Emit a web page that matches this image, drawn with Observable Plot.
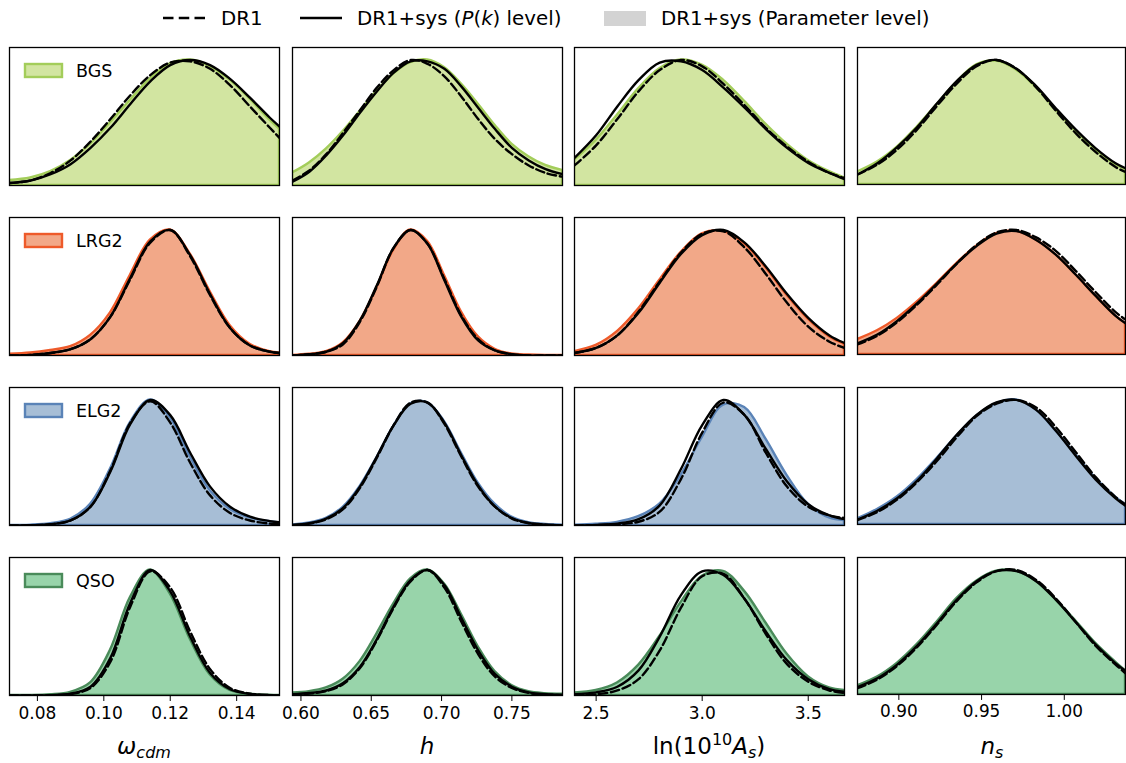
<!DOCTYPE html>
<html><head><meta charset="utf-8">
<script src="https://cdn.jsdelivr.net/npm/d3@7"></script>
<script src="https://cdn.jsdelivr.net/npm/@observablehq/plot@0.6"></script>
<style>
body{margin:0;background:#fff;}
#fig{position:relative;width:1126px;height:763px;overflow:hidden;font-family:"DejaVu Sans",sans-serif;background:#fff;}
.cell{position:absolute;}
.cell svg text{font-size:17px !important;font-family:"DejaVu Sans",sans-serif !important;fill:#000;}
#overlay{position:absolute;left:0;top:0;pointer-events:none;}
</style></head><body><div id="fig"></div>
<script>
// ---------------- data ----------------
const tracers = ["BGS", "LRG2", "ELG2", "QSO"];
const paramKeys = ["wcdm", "h", "As", "ns"];

const grid_wcdm = [0.0716, 0.078, 0.084, 0.090, 0.096, 0.102, 0.108, 0.114, 0.120, 0.126, 0.132, 0.138, 0.144, 0.150, 0.1529];
const grid_h = [0.594, 0.606, 0.618, 0.630, 0.642, 0.654, 0.666, 0.678, 0.690, 0.702, 0.714, 0.726, 0.738, 0.750, 0.762, 0.774, 0.786];
const grid_As = [2.398, 2.5, 2.6, 2.7, 2.8, 2.9, 3.0, 3.1, 3.2, 3.3, 3.4, 3.5, 3.6, 3.671];
const grid_ns = [0.875, 0.887, 0.899, 0.911, 0.923, 0.935, 0.947, 0.959, 0.971, 0.983, 0.995, 1.007, 1.019, 1.031, 1.037];

const domain_wcdm = [0.0716, 0.1529];
const domain_h = [0.594, 0.786];
const domain_As = [2.398, 3.671];
const domain_ns = [0.875, 1.037];

const ticks_wcdm = [0.08, 0.10, 0.12, 0.14];
const ticks_h = [0.60, 0.65, 0.70, 0.75];
const ticks_As = [2.5, 3.0, 3.5];
const ticks_ns = [0.90, 0.95, 1.00];

// BGS
const BGS_wcdm_param = [0.04, 0.06, 0.11, 0.20, 0.33, 0.50, 0.68, 0.85, 0.97, 1.00, 0.95, 0.84, 0.69, 0.52, 0.45];
const BGS_wcdm_pk    = [0.02, 0.04, 0.09, 0.17, 0.30, 0.46, 0.65, 0.83, 0.96, 1.00, 0.96, 0.85, 0.70, 0.54, 0.47];
const BGS_wcdm_dr1   = [0.02, 0.04, 0.10, 0.20, 0.35, 0.53, 0.72, 0.88, 0.98, 0.99, 0.93, 0.80, 0.63, 0.46, 0.38];
const BGS_h_param = [0.10, 0.18, 0.29, 0.43, 0.59, 0.75, 0.89, 0.98, 1.0, 0.94, 0.81, 0.65, 0.48, 0.33, 0.23, 0.16, 0.12];
const BGS_h_pk    = [0.03, 0.11, 0.24, 0.40, 0.58, 0.75, 0.90, 0.99, 0.99, 0.93, 0.79, 0.62, 0.45, 0.30, 0.20, 0.13, 0.09];
const BGS_h_dr1   = [0.04, 0.12, 0.25, 0.42, 0.60, 0.78, 0.92, 1.0, 0.97, 0.87, 0.71, 0.53, 0.37, 0.25, 0.16, 0.10, 0.07];
const BGS_As_param = [0.20, 0.36, 0.56, 0.77, 0.93, 1.0, 0.96, 0.84, 0.67, 0.49, 0.33, 0.20, 0.11, 0.06];
const BGS_As_pk    = [0.22, 0.40, 0.63, 0.84, 0.98, 0.99, 0.92, 0.78, 0.62, 0.45, 0.30, 0.18, 0.10, 0.05];
const BGS_As_dr1   = [0.16, 0.32, 0.53, 0.75, 0.92, 1.0, 0.95, 0.81, 0.64, 0.46, 0.31, 0.19, 0.10, 0.06];
const BGS_ns_param = [0.10, 0.18, 0.30, 0.46, 0.64, 0.82, 0.96, 0.99, 0.92, 0.78, 0.60, 0.43, 0.28, 0.16, 0.12];
const BGS_ns_pk    = [0.08, 0.17, 0.30, 0.46, 0.65, 0.83, 0.96, 1.0, 0.93, 0.79, 0.61, 0.44, 0.29, 0.17, 0.13];
const BGS_ns_dr1   = [0.08, 0.16, 0.28, 0.44, 0.63, 0.81, 0.95, 1.0, 0.93, 0.78, 0.59, 0.41, 0.26, 0.14, 0.10];

// LRG2
const LRG2_wcdm_param = [0.01, 0.02, 0.04, 0.07, 0.16, 0.34, 0.64, 0.92, 1.0, 0.81, 0.51, 0.24, 0.09, 0.03, 0.02];
const LRG2_wcdm_pk    = [0.0, 0.005, 0.02, 0.05, 0.13, 0.31, 0.62, 0.91, 1.0, 0.80, 0.49, 0.22, 0.08, 0.03, 0.02];
const LRG2_wcdm_dr1   = [0.0, 0.005, 0.02, 0.05, 0.13, 0.31, 0.61, 0.90, 1.0, 0.79, 0.48, 0.22, 0.08, 0.03, 0.02];
const LRG2_h_param = [0.0, 0.01, 0.03, 0.10, 0.27, 0.54, 0.84, 1.0, 0.91, 0.64, 0.35, 0.15, 0.05, 0.012, 0.004, 0.0, 0.0];
const LRG2_h_pk    = [0.0, 0.01, 0.03, 0.10, 0.28, 0.56, 0.86, 1.0, 0.89, 0.60, 0.31, 0.12, 0.04, 0.01, 0.0, 0.0, 0.0];
const LRG2_h_dr1   = [0.0, 0.01, 0.03, 0.09, 0.27, 0.55, 0.86, 1.0, 0.89, 0.61, 0.32, 0.13, 0.04, 0.01, 0.0, 0.0, 0.0];
const LRG2_As_param = [0.03, 0.08, 0.19, 0.37, 0.60, 0.82, 0.97, 0.99, 0.89, 0.70, 0.48, 0.29, 0.15, 0.09];
const LRG2_As_pk    = [0.02, 0.06, 0.16, 0.34, 0.58, 0.81, 0.96, 1.0, 0.90, 0.71, 0.49, 0.30, 0.16, 0.10];
const LRG2_As_dr1   = [0.02, 0.06, 0.16, 0.35, 0.59, 0.82, 0.97, 0.99, 0.86, 0.65, 0.42, 0.23, 0.11, 0.06];
const LRG2_ns_param = [0.12, 0.19, 0.29, 0.42, 0.57, 0.73, 0.87, 0.97, 0.99, 0.92, 0.80, 0.64, 0.47, 0.31, 0.25];
const LRG2_ns_pk    = [0.09, 0.16, 0.27, 0.41, 0.57, 0.73, 0.87, 0.97, 0.99, 0.92, 0.80, 0.64, 0.47, 0.31, 0.25];
const LRG2_ns_dr1   = [0.08, 0.15, 0.26, 0.40, 0.56, 0.73, 0.88, 0.98, 1.0, 0.94, 0.83, 0.67, 0.50, 0.34, 0.28];

// ELG2
const ELG2_wcdm_param = [0.0, 0.003, 0.015, 0.05, 0.17, 0.45, 0.82, 1.0, 0.86, 0.55, 0.28, 0.13, 0.06, 0.03, 0.02];
const ELG2_wcdm_pk    = [0.0, 0.002, 0.01, 0.04, 0.15, 0.43, 0.81, 1.0, 0.88, 0.58, 0.31, 0.15, 0.07, 0.035, 0.025];
const ELG2_wcdm_dr1   = [0.0, 0.002, 0.01, 0.04, 0.15, 0.44, 0.82, 0.99, 0.82, 0.50, 0.24, 0.10, 0.04, 0.015, 0.01];
const ELG2_h_param = [0.005, 0.02, 0.057, 0.145, 0.31, 0.54, 0.79, 0.97, 0.98, 0.83, 0.58, 0.34, 0.17, 0.067, 0.023, 0.008, 0.003];
const ELG2_h_pk    = [0.004, 0.018, 0.055, 0.14, 0.31, 0.55, 0.80, 0.97, 0.98, 0.82, 0.56, 0.32, 0.15, 0.06, 0.02, 0.007, 0.002];
const ELG2_h_dr1   = [0.003, 0.015, 0.05, 0.13, 0.30, 0.54, 0.80, 0.98, 0.98, 0.81, 0.55, 0.31, 0.15, 0.055, 0.018, 0.006, 0.002];
const ELG2_As_param = [0.003, 0.01, 0.025, 0.07, 0.17, 0.40, 0.70, 0.96, 0.94, 0.69, 0.40, 0.17, 0.06, 0.04];
const ELG2_As_pk    = [0.0, 0.005, 0.015, 0.05, 0.16, 0.45, 0.80, 1.0, 0.88, 0.61, 0.35, 0.17, 0.08, 0.05];
const ELG2_As_dr1   = [0.0, 0.003, 0.01, 0.03, 0.11, 0.37, 0.74, 0.98, 0.88, 0.58, 0.31, 0.15, 0.08, 0.06];
const ELG2_ns_param = [0.045, 0.12, 0.22, 0.36, 0.53, 0.71, 0.87, 0.97, 1.0, 0.92, 0.75, 0.56, 0.37, 0.22, 0.16];
const ELG2_ns_pk    = [0.04, 0.11, 0.21, 0.35, 0.53, 0.72, 0.88, 0.98, 1.0, 0.92, 0.75, 0.55, 0.36, 0.21, 0.15];
const ELG2_ns_dr1   = [0.035, 0.10, 0.20, 0.34, 0.51, 0.70, 0.87, 0.97, 1.0, 0.94, 0.78, 0.58, 0.38, 0.22, 0.16];

// QSO
const QSO_wcdm_param = [0.0, 0.0, 0.006, 0.025, 0.10, 0.36, 0.78, 1.0, 0.81, 0.45, 0.165, 0.04, 0.01, 0.002, 0.0];
const QSO_wcdm_pk    = [0.0, 0.0, 0.003, 0.015, 0.07, 0.30, 0.74, 1.0, 0.83, 0.47, 0.18, 0.05, 0.012, 0.003, 0.001];
const QSO_wcdm_dr1   = [0.0, 0.0, 0.002, 0.012, 0.06, 0.27, 0.71, 0.99, 0.86, 0.51, 0.21, 0.06, 0.015, 0.003, 0.0];
const QSO_h_param = [0.02, 0.03, 0.06, 0.13, 0.27, 0.49, 0.73, 0.93, 1.0, 0.89, 0.65, 0.39, 0.19, 0.08, 0.03, 0.015, 0.01];
const QSO_h_pk    = [0.01, 0.02, 0.04, 0.10, 0.23, 0.45, 0.71, 0.92, 1.0, 0.88, 0.62, 0.36, 0.17, 0.07, 0.025, 0.01, 0.005];
const QSO_h_dr1   = [0.005, 0.015, 0.035, 0.09, 0.22, 0.44, 0.70, 0.91, 1.0, 0.86, 0.59, 0.33, 0.15, 0.06, 0.02, 0.008, 0.004];
const QSO_As_param = [0.02, 0.04, 0.10, 0.24, 0.47, 0.74, 0.95, 0.99, 0.83, 0.58, 0.33, 0.15, 0.06, 0.04];
const QSO_As_pk    = [0.01, 0.025, 0.07, 0.20, 0.47, 0.80, 0.99, 0.96, 0.77, 0.51, 0.28, 0.13, 0.05, 0.03];
const QSO_As_dr1   = [0.0, 0.01, 0.04, 0.13, 0.36, 0.70, 0.95, 0.97, 0.77, 0.49, 0.25, 0.11, 0.04, 0.02];
const QSO_ns_param = [0.07, 0.14, 0.25, 0.40, 0.58, 0.77, 0.91, 0.99, 0.99, 0.91, 0.76, 0.59, 0.41, 0.26, 0.19];
const QSO_ns_pk    = [0.06, 0.13, 0.24, 0.39, 0.57, 0.76, 0.91, 0.99, 0.99, 0.91, 0.76, 0.58, 0.40, 0.25, 0.19];
const QSO_ns_dr1   = [0.05, 0.12, 0.23, 0.38, 0.56, 0.75, 0.90, 0.99, 1.0, 0.92, 0.77, 0.58, 0.39, 0.24, 0.17];

const fillColors = ["#d2e5a1", "#f2a888", "#a7bed6", "#98d4aa"];
const edgeColors = ["#a3cd5a", "#ee5a2a", "#5a83b7", "#4a8b5a"];
const legendLabels = ["DR1", "DR1+sys (P(k) level)", "DR1+sys (Parameter level)"];

// ---------------- assembly ----------------
const curves = {
  BGS_wcdm: [BGS_wcdm_param, BGS_wcdm_pk, BGS_wcdm_dr1], BGS_h: [BGS_h_param, BGS_h_pk, BGS_h_dr1],
  BGS_As: [BGS_As_param, BGS_As_pk, BGS_As_dr1], BGS_ns: [BGS_ns_param, BGS_ns_pk, BGS_ns_dr1],
  LRG2_wcdm: [LRG2_wcdm_param, LRG2_wcdm_pk, LRG2_wcdm_dr1], LRG2_h: [LRG2_h_param, LRG2_h_pk, LRG2_h_dr1],
  LRG2_As: [LRG2_As_param, LRG2_As_pk, LRG2_As_dr1], LRG2_ns: [LRG2_ns_param, LRG2_ns_pk, LRG2_ns_dr1],
  ELG2_wcdm: [ELG2_wcdm_param, ELG2_wcdm_pk, ELG2_wcdm_dr1], ELG2_h: [ELG2_h_param, ELG2_h_pk, ELG2_h_dr1],
  ELG2_As: [ELG2_As_param, ELG2_As_pk, ELG2_As_dr1], ELG2_ns: [ELG2_ns_param, ELG2_ns_pk, ELG2_ns_dr1],
  QSO_wcdm: [QSO_wcdm_param, QSO_wcdm_pk, QSO_wcdm_dr1], QSO_h: [QSO_h_param, QSO_h_pk, QSO_h_dr1],
  QSO_As: [QSO_As_param, QSO_As_pk, QSO_As_dr1], QSO_ns: [QSO_ns_param, QSO_ns_pk, QSO_ns_dr1]
};
const grids = [grid_wcdm, grid_h, grid_As, grid_ns];
const domains = [domain_wcdm, domain_h, domain_As, domain_ns];
const tickSets = [ticks_wcdm, ticks_h, ticks_As, ticks_ns];
const tickFormats = [d3.format(".2f"), d3.format(".2f"), d3.format(".1f"), d3.format(".2f")];

const colLeft = [9, 292, 574, 857];
const rowTop = [47, 217, 387, 557];
const W = 270, H = 138;
const fig = document.getElementById("fig");
const FONT = "'DejaVu Sans', sans-serif";
const LW = 2.4, DASH = "8.5,3.7";

tracers.forEach((tr, r) => {
  paramKeys.forEach((pk, c) => {
    const [pp, kk, dd] = curves[tr + "_" + pk];
    const data = grids[c].map((x, i) => ({x, p: pp[i], k: kk[i], d: dd[i]}));
    const bottom = r === 3;
    const svg = Plot.plot({
      width: W + 2, height: H + 2 + (bottom ? 44 : 0),
      marginLeft: 1, marginRight: 1, marginTop: 1, marginBottom: bottom ? 45 : 1,
      style: {background: "transparent", overflow: "visible", fontSize: "17px", fontFamily: FONT, color: "black"},
      x: {domain: domains[c], ticks: tickSets[c], tickFormat: tickFormats[c], tickSize: 6, tickPadding: 5, label: null, axis: bottom ? "bottom" : null},
      y: {domain: [0, 1.1], axis: null},
      marks: [
        Plot.areaY(data, {x: "x", y: "p", fill: fillColors[r], stroke: edgeColors[r], strokeWidth: 2.4, curve: "catmull-rom", clip: true}),
        Plot.lineY(data, {x: "x", y: "d", stroke: "black", strokeWidth: LW, strokeDasharray: DASH, curve: "catmull-rom", clip: true}),
        Plot.lineY(data, {x: "x", y: "k", stroke: "black", strokeWidth: LW, curve: "catmull-rom", clip: true}),
        Plot.frame({stroke: "black", strokeWidth: 1.3})
      ]
    });
    const div = document.createElement("div");
    div.className = "cell";
    div.style.left = (colLeft[c] - 1) + "px";
    div.style.top = (rowTop[r] - 1) + "px";
    div.appendChild(svg);
    fig.appendChild(div);
  });
});

// overlay: legends and axis titles
const ov = d3.select(fig).append("svg").attr("id", "overlay").attr("width", 1126).attr("height", 763)
  .style("font-family", FONT);

// top legend
const LF = 19.8;
ov.append("line").attr("x1", 163).attr("x2", 205).attr("y1", 18).attr("y2", 18)
  .attr("stroke", "black").attr("stroke-width", LW).attr("stroke-dasharray", "10.5,5.25");
ov.append("text").attr("x", 221).attr("y", 25).attr("font-size", LF).text(legendLabels[0]);
ov.append("line").attr("x1", 300).attr("x2", 342).attr("y1", 18).attr("y2", 18)
  .attr("stroke", "black").attr("stroke-width", LW);
const t2 = ov.append("text").attr("x", 357).attr("y", 25).attr("font-size", LF);
t2.append("tspan").text("DR1+sys (");
t2.append("tspan").attr("font-style", "italic").text("P");
t2.append("tspan").text("(");
t2.append("tspan").attr("font-style", "italic").text("k");
t2.append("tspan").text(") level)");
ov.append("rect").attr("x", 604).attr("y", 11).attr("width", 42).attr("height", 15).attr("fill", "#d3d3d3");
ov.append("text").attr("x", 661).attr("y", 25).attr("font-size", LF).text(legendLabels[2]);

// panel legends
tracers.forEach((tr, r) => {
  const top = rowTop[r];
  ov.append("rect").attr("x", 25).attr("y", top + 17).attr("width", 37).attr("height", 13)
    .attr("fill", fillColors[r]).attr("stroke", edgeColors[r]).attr("stroke-width", 2.4);
  ov.append("text").attr("x", 76).attr("y", top + 30).attr("font-size", 17.5).text(tr);
});

// axis titles
const centers = colLeft.map(l => l + W / 2);
const ty = 754;
const a1 = ov.append("text").attr("x", centers[0]).attr("y", ty).attr("font-size", 23).attr("text-anchor", "middle");
a1.append("tspan").attr("font-style", "italic").text("ω");
a1.append("tspan").attr("font-style", "italic").attr("font-size", 16).attr("dy", 4).text("cdm");
ov.append("text").attr("x", centers[1]).attr("y", ty).attr("font-size", 23).attr("text-anchor", "middle")
  .attr("font-style", "italic").text("h");
const a3 = ov.append("text").attr("x", centers[2]).attr("y", ty).attr("font-size", 23).attr("text-anchor", "middle");
a3.append("tspan").text("ln(10");
a3.append("tspan").attr("font-size", 16).attr("dy", -9).text("10");
a3.append("tspan").attr("font-style", "italic").attr("dy", 9).text("A");
a3.append("tspan").attr("font-style", "italic").attr("font-size", 16).attr("dy", 4).text("s");
a3.append("tspan").attr("dy", -4).text(")");
const a4 = ov.append("text").attr("x", centers[3]).attr("y", ty).attr("font-size", 23).attr("text-anchor", "middle");
a4.append("tspan").attr("font-style", "italic").text("n");
a4.append("tspan").attr("font-style", "italic").attr("font-size", 16).attr("dy", 4).text("s");
</script></body></html>
